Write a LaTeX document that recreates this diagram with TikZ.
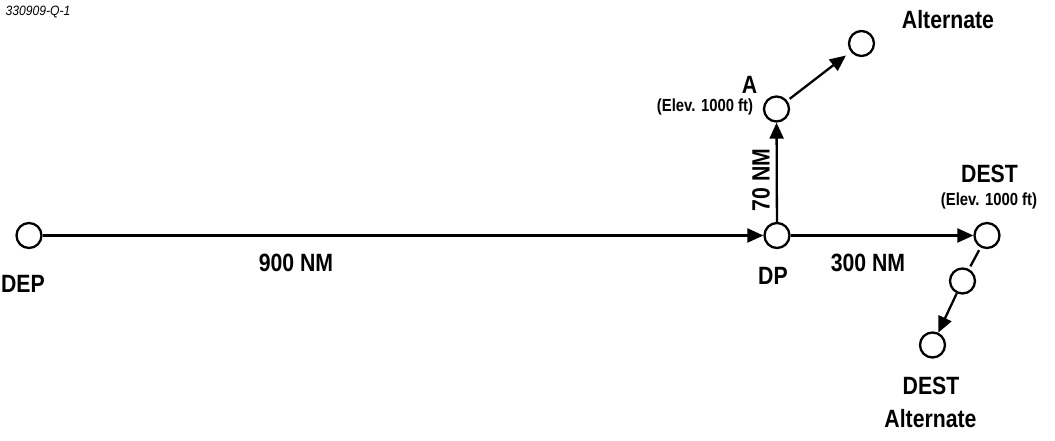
\documentclass[tikz,border=0pt]{standalone}
\usepackage{fontspec}
\setmainfont{Liberation Sans}
\newfontfamily\cond[FakeStretch=0.85]{Liberation Sans}
\newfontfamily\condtag[FakeStretch=0.9]{Liberation Sans}
\usetikzlibrary{arrows.meta}
\begin{document}
\begin{tikzpicture}[x=1pt,y=-1pt,
  wp/.style={circle,draw,line width=2.3pt,minimum size=25pt,inner sep=0pt},
  conn/.style={line width=2.3pt},
  arr/.style={conn,-{Triangle[length=16pt,width=14pt]}},
  big/.style={font=\cond\fontsize{25}{28}\selectfont\bfseries,inner sep=0pt},
  small/.style={font=\cond\fontsize{17.5}{20}\selectfont\bfseries,inner sep=0pt},
  tag/.style={font=\condtag\fontsize{13.5}{15}\selectfont\itshape,inner sep=0pt}]
\useasboundingbox (0,0) rectangle (1055,440);
% waypoints
\node[wp] (dep) at (29,235.5) {};
\node[wp] (dp) at (777,235.5) {};
\node[wp] (dest) at (987,235.5) {};
\node[wp] (a) at (776.5,109) {};
\node[wp] (alt) at (861.5,43.5) {};
\node[wp] (mid) at (962.5,281) {};
\node[wp] (dalt) at (932.5,345) {};
% connectors
\draw[arr] (dep) -- (dp);
\draw[arr] (dp) -- (dest);
\draw[arr] (dp) -- (a);
\draw[arr,shorten <=3pt,shorten >=6pt] (a) -- (alt);
\draw[conn,shorten <=3pt,shorten >=3pt] (dest) -- (mid);
\draw[arr] (mid) -- (dalt);
% labels
\node[tag] (id) at (38,12) {330909-Q-1};
\node[big] (lalt) at (948,20) {Alternate};
\node[big] (la) at (749.5,84.5) {A};
\node[small] (lael) at (705,107) {(Elev. 1000 ft)};
\node[big,rotate=90] (l70) at (761,180) {70 NM};
\node[big] (ldest) at (989.5,173.5) {DEST};
\node[small] (ldel) at (989,201) {(Elev. 1000 ft)};
\node[big] (l300) at (868,263) {300 NM};
\node[big] (ldp) at (773,276) {DP};
\node[big] (l900) at (296,263) {900 NM};
\node[big] (ldep) at (23,283.5) {DEP};
\node[big] (ldd) at (931,386) {DEST};
\node[big] (lda) at (930.5,419) {Alternate};
\end{tikzpicture}
\end{document}
